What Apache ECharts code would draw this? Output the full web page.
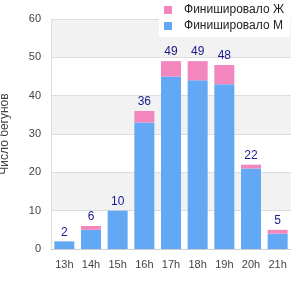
<!DOCTYPE html>
<html><head><meta charset="utf-8">
<script src="https://cdn.jsdelivr.net/npm/echarts@6/dist/echarts.min.js"></script>
<style>html,body{margin:0;padding:0;background:#fff}#c{width:300px;height:300px}</style>
</head><body><div id="c"></div>
<script>
const categories = ['13h','14h','15h','16h','17h','18h','19h','20h','21h'];
const male = [2,5,10,33,45,44,43,21,4];
const female = [0,1,0,3,4,5,5,1,1];
const totals = [2,6,10,36,49,49,48,22,5];
const yTicks = [0,10,20,30,40,50,60];

const chart = echarts.init(document.getElementById('c'));
const font = 'Liberation Sans, Arial, sans-serif';
chart.setOption({
  animation:false,
  textStyle:{fontFamily:font},
  legend:{
    orient:'vertical', right:10, top:0,
    backgroundColor:'#fff', padding:[4,6,5,5], itemGap:4,
    itemWidth:8, itemHeight:8, icon:'rect',
    data:['Финишировало Ж','Финишировало М'],
    textStyle:{fontSize:12,color:'#222',fontFamily:font,padding:[0,0,0,7]}
  },
  grid:{left:51,right:9,top:19,bottom:51,containLabel:false,outerBoundsMode:'none'},
  xAxis:{
    type:'category', data:categories,
    axisLine:{lineStyle:{color:'#ccc'}},
    axisTick:{show:false},
    axisLabel:{color:'#444',fontSize:11,margin:10}
  },
  yAxis:{
    type:'value', min:yTicks[0], max:yTicks[yTicks.length-1], interval:10,
    name:'Число бегунов', nameLocation:'middle', nameGap:40,
    nameTextStyle:{color:'#444',fontSize:12},
    axisLine:{show:true,lineStyle:{color:'#ddd'}},
    axisTick:{show:false},
    axisLabel:{color:'#444',fontSize:11,margin:10},
    splitLine:{show:true,lineStyle:{color:'#ddd'}},
    splitArea:{show:true,areaStyle:{color:['#fff','#f2f2f2']}}
  },
  series:[
    {name:'Финишировало М',type:'bar',stack:'a',data:male,barCategoryGap:'25%',
     itemStyle:{color:'#62a8f5'}},
    {name:'Финишировало Ж',type:'bar',stack:'a',data:female,
     itemStyle:{color:'#f386bd'},
     label:{show:true,position:'top',distance:3,color:'#1a1a8c',fontSize:12,
       formatter:p=>String(totals[p.dataIndex])}}
  ]
});
</script></body></html>
